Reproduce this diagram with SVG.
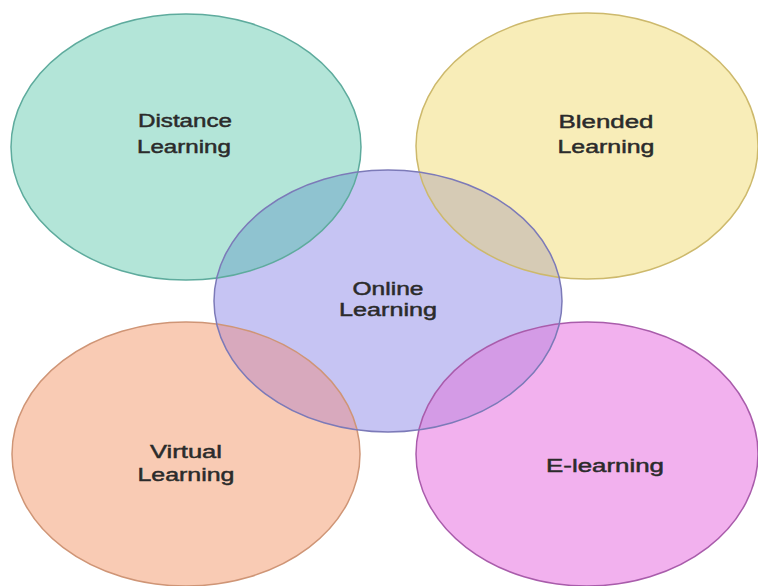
<svg xmlns="http://www.w3.org/2000/svg" width="758" height="586" viewBox="0 0 758 586">
<style>
.lbl{font-family:"Liberation Sans",Arial,sans-serif;font-size:17.5px;fill:#2b2b2b;stroke:#2b2b2b;stroke-width:0.45;text-anchor:middle}
.st{fill:none;stroke-width:1.5}
</style>
<defs>
<clipPath id="cpOnline"><ellipse cx="388" cy="301" rx="174" ry="131"/></clipPath>
</defs>
<rect width="758" height="586" fill="#ffffff"/>
<g id="distance">
<ellipse cx="186" cy="147" rx="175" ry="133" fill="#b3e5d8"/>
</g>
<g id="blended">
<ellipse cx="587" cy="146" rx="171" ry="133" fill="#f8edb8"/>
</g>
<g id="virtual">
<ellipse cx="186" cy="454" rx="174" ry="132" fill="#f9cbb4"/>
</g>
<g id="elearning">
<ellipse cx="587" cy="454" rx="171" ry="132" fill="#f2b1ee"/>
</g>
<g id="online">
<ellipse cx="388" cy="301" rx="174" ry="131" fill="#c6c4f3"/>
</g>
<g id="overlaps" clip-path="url(#cpOnline)">
<ellipse cx="186" cy="147" rx="175" ry="133" fill="#8fc3d0"/>
<ellipse cx="587" cy="146" rx="171" ry="133" fill="#d6cbb5"/>
<ellipse cx="186" cy="454" rx="174" ry="132" fill="#d8a9bd"/>
<ellipse cx="587" cy="454" rx="171" ry="132" fill="#d49be6"/>
</g>
<g id="outlines">
<ellipse class="st" cx="186" cy="147" rx="175" ry="133" stroke="#5eab9d"/>
<ellipse class="st" cx="587" cy="146" rx="171" ry="133" stroke="#cdb96c"/>
<ellipse class="st" cx="186" cy="454" rx="174" ry="132" stroke="#cf9576"/>
<ellipse class="st" cx="587" cy="454" rx="171" ry="132" stroke="#a95cab"/>
<ellipse class="st" cx="388" cy="301" rx="174" ry="131" stroke="#7c7ab8"/>
</g>
<g id="labels">
<text class="lbl" x="185" y="127" textLength="94" lengthAdjust="spacingAndGlyphs">Distance</text>
<text class="lbl" x="184" y="153" textLength="94" lengthAdjust="spacingAndGlyphs">Learning</text>
<text class="lbl" x="606" y="128" textLength="95" lengthAdjust="spacingAndGlyphs">Blended</text>
<text class="lbl" x="606" y="153" textLength="97" lengthAdjust="spacingAndGlyphs">Learning</text>
<text class="lbl" x="388" y="295" textLength="71" lengthAdjust="spacingAndGlyphs">Online</text>
<text class="lbl" x="388" y="316" textLength="98" lengthAdjust="spacingAndGlyphs">Learning</text>
<text class="lbl" x="186" y="458" textLength="72" lengthAdjust="spacingAndGlyphs">Virtual</text>
<text class="lbl" x="186" y="481" textLength="97" lengthAdjust="spacingAndGlyphs">Learning</text>
<text class="lbl" x="605" y="472" textLength="118" lengthAdjust="spacingAndGlyphs">E-learning</text>
</g>
</svg>
